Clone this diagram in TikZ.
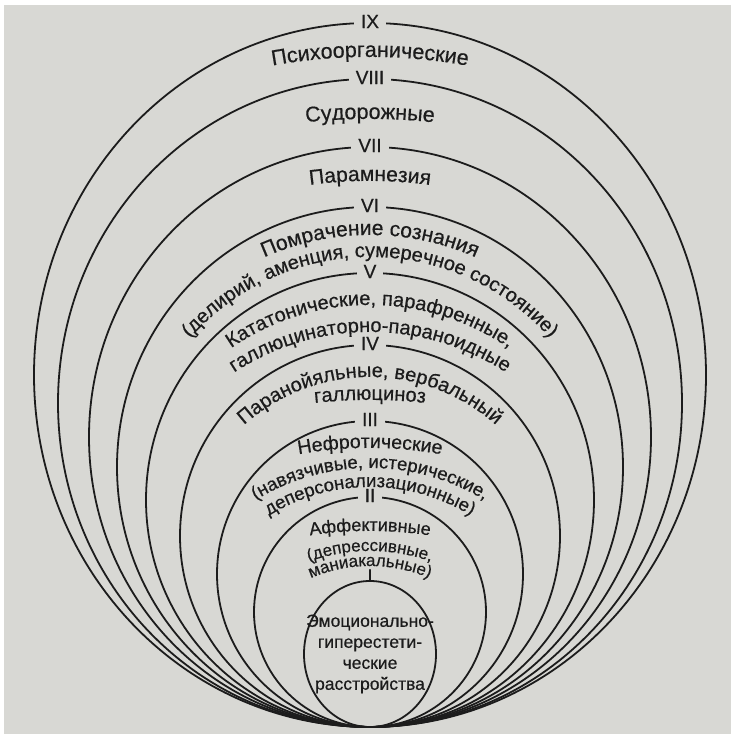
\documentclass[tikz,border=0pt]{standalone}
\usepackage{fontspec}
\setmainfont{Liberation Sans}[FakeBold=0.5]
\usetikzlibrary{decorations.text}
\definecolor{Paper}{HTML}{D8D8D4}
\definecolor{Ink}{HTML}{1C1C1C}

% text bent along an arc: centre height, radius, size, text
\newcommand{\arclabel}[4]{%
  \path[decorate, decoration={text along path, text align=center,
      text={|\color{Ink}\fontsize{#3}{#3}\selectfont|#4}}]
    (370,#1) ++(170:#2) arc[start angle=170, end angle=10, radius=#2];}

\begin{document}
\begin{tikzpicture}[x=1pt, y=1pt,
    ring/.style={draw=Ink, line width=1.8pt},
    numeral/.style={fill=Paper, text=Ink, font=\fontsize{19}{19}\selectfont, inner xsep=7pt, inner ysep=1pt, yshift=1.5pt},
    core/.style={align=center, text=Ink, font=\fontsize{17.5}{21}\selectfont}
  ]
  \useasboundingbox (0,0) rectangle (731,734);
  \fill[white] (0,0) rectangle (731,734);
  \fill[Paper] (4,0) rectangle (731,729);

  % rings, outer to inner, all touching at the bottom
  \foreach \rx/\ry in {336/352, 312/324, 281/290, 253/260, 224/227, 190/191, 153/153, 116/115, 66/73}
    \draw[ring] (370,{7+\ry}) ellipse[x radius=\rx, y radius=\ry];

  % level numbers
  \node[numeral] (nIX) at (370,711) {IX};
  \node[numeral] (nVIII) at (370,655) {VIII};
  \node[numeral] (nVII) at (370,587) {VII};
  \node[numeral] (nVI) at (370,527) {VI};
  \node[numeral] (nV) at (370,461) {V};
  \node[numeral] (nIV) at (370,389) {IV};
  \node[numeral] (nIII) at (370,313) {III};
  \node[numeral] (nII) at (370,237) {II};
  \node[text=Ink, font=\fontsize{18}{18}\selectfont, anchor=south, inner sep=0pt] (nI) at (370,152) {I};

  % bands
  \arclabel{127}{550}{21.5}{Психоорганические}
  \arclabel{15}{600}{21.5}{Судорожные}
  \arclabel{103}{450}{21}{Парамнезия}
  \arclabel{238}{261}{21}{Помрачение сознания}
  \arclabel{237}{240}{20}{(делирий, аменция, сумеречное состояние)}
  \arclabel{184}{245}{20}{Кататонические, парафренные,}
  \arclabel{154}{248}{20}{галлюцинаторно-параноидные}
  \arclabel{168}{189}{20}{Паранойяльные, вербальный}
  \arclabel{-166}{500}{20}{галлюциноз}
  \arclabel{-114}{400}{19.5}{Нефротические}
  \arclabel{46}{220}{18.5}{(навязчивые, истерические,}
  \arclabel{55}{192}{18.5}{деперсонализационные)}
  \arclabel{-197}{400}{18}{Аффективные}
  \arclabel{3}{180}{17}{(депрессивные,}
  \arclabel{18}{150}{17}{маниакальные)}

  \node[core] (core) at (370,80) {Эмоционально-\\гиперестети-\\ческие\\расстройства};
\end{tikzpicture}
\end{document}
